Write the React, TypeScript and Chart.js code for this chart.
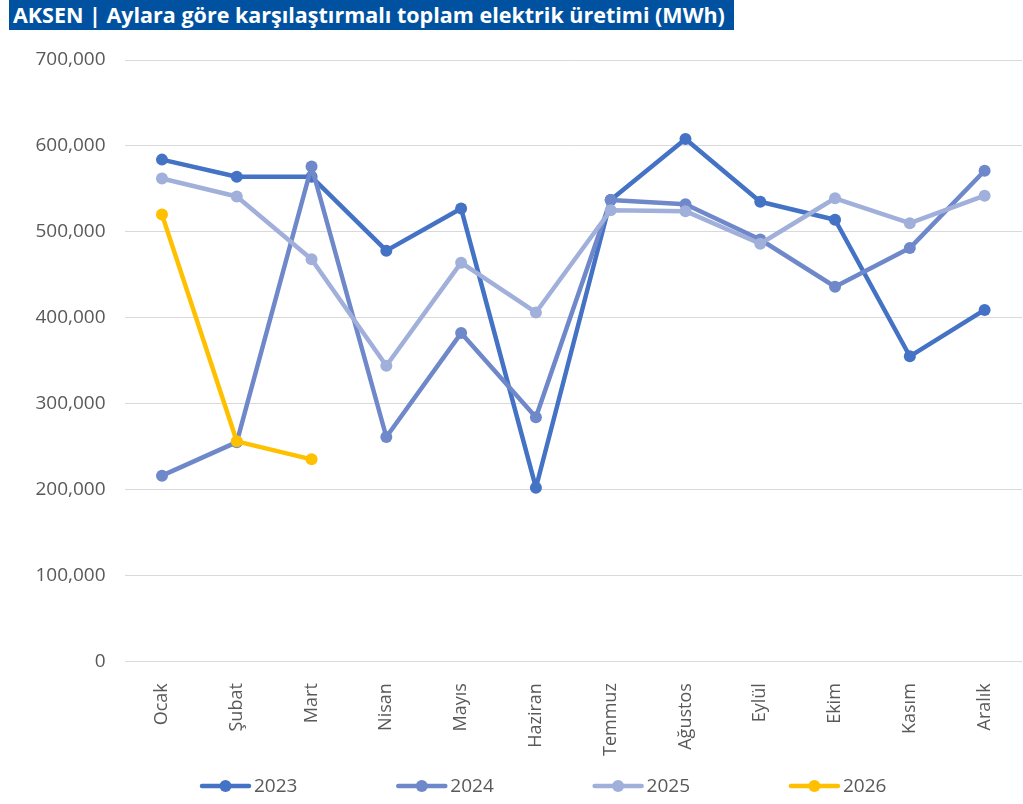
import React, { useEffect, useRef } from "react";
import { Chart, registerables } from "chart.js";

Chart.register(...registerables);

const titleText = "AKSEN | Aylara göre karşılaştırmalı toplam elektrik üretimi (MWh)";
const months = ["Ocak", "Şubat", "Mart", "Nisan", "Mayıs", "Haziran", "Temmuz", "Ağustos", "Eylül", "Ekim", "Kasım", "Aralık"];
const seriesNames = ["2023", "2024", "2025", "2026"];
const v2023 = [584000, 564000, 564000, 478000, 527000, 202000, 537000, 608000, 535000, 514000, 355000, 409000];
const v2024 = [216000, 255000, 576000, 261000, 382000, 284000, 537000, 532000, 491000, 436000, 481000, 571000];
const v2025 = [562000, 541000, 468000, 344000, 464000, 406000, 525000, 524000, 486000, 539000, 510000, 542000];
const v2026 = [520000, 256000, 235000];
const seriesColors = ["#4472C4", "#6E88CA", "#A1AFDB", "#FFC000"];
const yMax = 700000;
const yStep = 100000;

const legendPlugin = {
  id: "lineLegend",
  afterDraw(chart: any) {
    const ctx = chart.ctx;
    const startX = 200;
    const spacing = 196.3;
    const y = 786;
    const symW = 51;
    ctx.save();
    chart.data.datasets.forEach((ds: any, i: number) => {
      const x = startX + i * spacing;
      ctx.strokeStyle = ds.borderColor;
      ctx.lineWidth = 4.5;
      ctx.lineCap = "round";
      ctx.beginPath();
      ctx.moveTo(x + 2, y);
      ctx.lineTo(x + symW - 2, y);
      ctx.stroke();
      ctx.fillStyle = ds.borderColor;
      ctx.beginPath();
      ctx.arc(x + symW / 2, y, 6, 0, Math.PI * 2);
      ctx.fill();
      ctx.fillStyle = "#595959";
      ctx.font = "19px 'Open Sans'";
      ctx.textBaseline = "middle";
      ctx.textAlign = "left";
      ctx.fillText(ds.label, x + symW + 3, y + 1);
    });
    ctx.restore();
  },
};

export default function App() {
  const ref = useRef<HTMLCanvasElement | null>(null);
  useEffect(() => {
    document.body.style.margin = "0";
    const series = [v2023, v2024, v2025, v2026];
    const chart = new Chart(ref.current as HTMLCanvasElement, {
      type: "line",
      data: {
        labels: months,
        datasets: series.map((d, i) => ({
          label: seriesNames[i],
          data: d,
          borderColor: seriesColors[i],
          backgroundColor: seriesColors[i],
          pointBackgroundColor: seriesColors[i],
          pointBorderColor: seriesColors[i],
          borderWidth: 4.5,
          borderJoinStyle: "round" as const,
          borderCapStyle: "round" as const,
          pointRadius: 6,
          pointBorderWidth: 0,
          tension: 0,
          fill: false,
          order: 4 - i,
        })),
      },
      options: {
        animation: false,
        responsive: false,
        layout: { padding: { left: 16.5, right: 1, top: 60, bottom: 34 } },
        plugins: {
          legend: { display: false },
          title: { display: false },
          tooltip: { enabled: false },
        },
        scales: {
          x: {
            offset: true,
            grid: { display: false },
            border: { display: false },
            ticks: {
              color: "#595959",
              font: { family: "'Open Sans'", size: 18 },
              maxRotation: 90,
              minRotation: 90,
              padding: 14,
              autoSkip: false,
            },
          },
          y: {
            min: 0,
            max: yMax,
            grid: { color: "#D9D9D9", lineWidth: 1, drawTicks: false },
            border: { display: false },
            ticks: {
              stepSize: yStep,
              color: "#595959",
              font: { family: "'Open Sans'", size: 19 },
              padding: 19,
              callback: (v: any) => Number(v).toLocaleString("en-US"),
            },
          },
        },
      },
      plugins: [legendPlugin],
    });
    return () => chart.destroy();
  }, []);
  return (
    <div style={{ position: "relative", width: 1023, height: 804, overflow: "hidden" }}>
      <canvas ref={ref} width={1028} height={804} style={{ display: "block" }} />
      <div
        style={{
          position: "absolute",
          left: 9,
          top: 0,
          width: 725,
          height: 30,
          background: "#0052A0",
          color: "#FFFFFF",
          fontFamily: "'Open Sans', sans-serif",
          fontWeight: "bold",
          fontSize: 21.5,
          lineHeight: "30px",
          paddingLeft: 4,
          boxSizing: "border-box",
          whiteSpace: "nowrap",
          overflow: "hidden",
        }}
      >
        {titleText}
      </div>
    </div>
  );
}
